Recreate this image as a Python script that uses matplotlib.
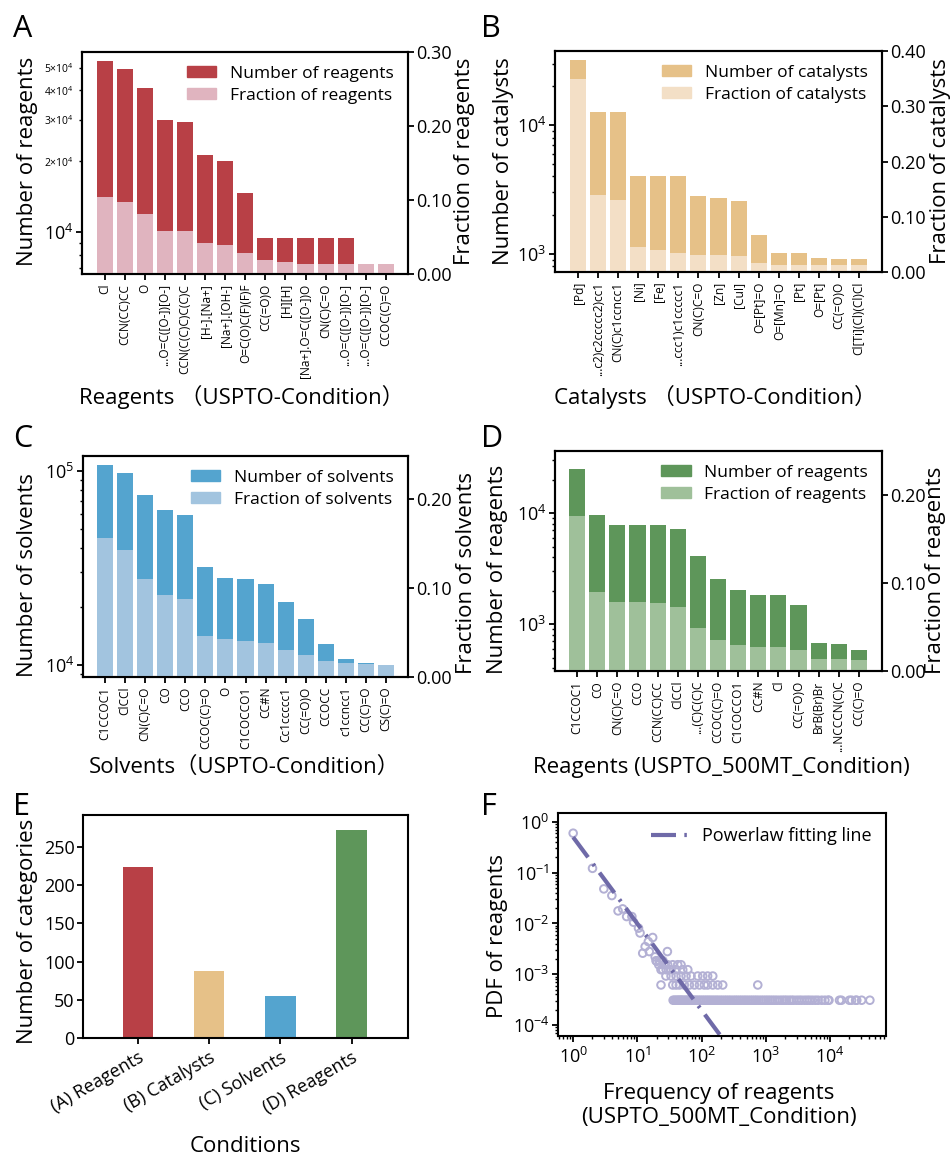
import matplotlib
matplotlib.use("Agg")
import matplotlib.pyplot as plt
from matplotlib.patches import Patch
from matplotlib.ticker import NullFormatter

plt.rcParams['font.family'] = ['Open Sans', 'Noto Sans CJK SC', 'DejaVu Sans']
plt.rcParams['mathtext.fontset'] = 'custom'
plt.rcParams['mathtext.rm'] = 'Open Sans'
plt.rcParams['mathtext.it'] = 'Open Sans:italic'
plt.rcParams['mathtext.bf'] = 'Open Sans:bold'
plt.rcParams['axes.linewidth'] = 1.5
plt.rcParams['xtick.major.width'] = 1.3
plt.rcParams['ytick.major.width'] = 1.3
plt.rcParams['ytick.minor.width'] = 1.0
plt.rcParams['xtick.minor.width'] = 1.0

# ---- dados ----
reag_nomes = ['Cl', 'CCN(CC)CC', 'O', '...O=C([O-])[O-]', 'CCN(C(C)C)C(C)C', '[H-].[Na+]',
              '[Na+].[OH-]', 'O=C(O)C(F)(F)F', 'CC(=O)O', '[H][H]', '[Na+].O=C([O-])O',
              'CN(C)C=O', '...O=C([O-])[O-]', '...O=C([O-])[O-]', 'CCOC(C)=O']
reag_num = [53500, 49400, 41000, 30000, 29400, 21300, 20000, 14700, 9430, 9430, 9430,
            9430, 9430, 7000, 7000]
reag_frac = [0.104, 0.097, 0.081, 0.058, 0.058, 0.042, 0.039, 0.028, 0.019, 0.016, 0.014,
             0.014, 0.014, 0.014, 0.014]

cat_nomes = ['[Pd]', '...c2)c2ccccc2)cc1', 'CN(C)c1ccncc1', '[Ni]', '[Fe]', '...ccc1)c1ccccc1',
             'CN(C)C=O', '[Zn]', '[CuI]', 'O=[Pt]=O', 'O=[Mn]=O', '[Pt]', 'O=[Pt]',
             'CC(=O)O', 'Cl[Ti](Cl)(Cl)Cl']
cat_num = [31900, 12600, 12600, 4030, 4030, 4030, 2820, 2720, 2575, 1400, 1020, 1020, 930,
           910, 910]
cat_frac = [0.349, 0.139, 0.130, 0.045, 0.040, 0.034, 0.031, 0.031, 0.029, 0.016, 0.013,
            0.013, 0.012, 0.012, 0.012]

solv_nomes = ['C1CCOC1', 'ClCCl', 'CN(C)C=O', 'CO', 'CCO', 'CCOC(C)=O', 'O', 'C1COCCO1',
              'CC#N', 'Cc1ccccc1', 'CC(=O)O', 'CCOCC', 'c1ccncc1', 'CC(C)=O', 'CS(C)=O']
solv_num = [107000, 97700, 75200, 63000, 59300, 32000, 28100, 27700, 26100, 21100, 17300,
            12800, 10700, 10240, 10000]
solv_frac = [0.156, 0.143, 0.110, 0.092, 0.087, 0.046, 0.043, 0.040, 0.038, 0.030, 0.025,
             0.018, 0.016, 0.015, 0.013]

mt_nomes = ['C1CCOC1', 'CO', 'CN(C)C=O', 'CCO', 'CCN(CC)CC', 'ClCCl', '...(C)C(C)C',
            'CCOC(C)=O', 'C1COCCO1', 'CC#N', 'Cl', 'CC(=O)O', 'BrB(Br)Br', '...NCCCN(C)C',
            'CC(C)=O']
mt_num = [24900, 9600, 7800, 7800, 7800, 7180, 4100, 2540, 2020, 1830, 1830, 1480, 674,
          660, 584]
mt_frac = [0.176, 0.090, 0.078, 0.078, 0.077, 0.073, 0.049, 0.035, 0.030, 0.027, 0.027,
           0.024, 0.014, 0.014, 0.013]

cond_nomes = ['(A) Reagents', '(B) Catalysts', '(C) Solvents', '(D) Reagents']
cond_num = [224, 88, 55, 272]

# PDF dos reagentes: parte inicial
pdf_x = [1, 2, 3, 4, 5, 5.9, 6.8, 8.2, 8.7, 10.4, 11, 12.1, 13.2, 14.8, 17.3, 15.3, 18.9,
         20, 29.3]
pdf_y = [0.60, 0.122, 0.048, 0.0355, 0.0177, 0.0194, 0.0137, 0.0137, 0.0106, 0.0081,
         0.0065, 0.0026, 0.0035, 0.0044, 0.0053, 0.0028, 0.0022, 0.0018, 0.0028]
# niveis discretos (k / N)
nivel_1 = 3.08e-4
nivel_2 = 6.15e-4
nivel_3 = 9.23e-4
nivel_4 = 1.23e-3
nivel_5 = 1.54e-3
nivel_6 = 1.85e-3
x_nivel_6 = [19.5, 22, 25]
x_nivel_5 = [21.5, 26, 29.6, 35.5, 42.4, 47.8]
x_nivel_4 = [23.3, 24.8, 28, 33.4, 40.0, 50.8, 60.9]
x_nivel_3 = [27.8, 33.4, 40.0, 47.8, 57.2, 68.4, 86.9, 104, 124, 149]
x_nivel_2 = [23.3, 35.5, 40, 45.1, 53.8, 64.5, 77.2, 92.4, 110, 124, 149, 178, 213, 748]
x_nivel_1 = [36, 38, 40, 42, 44, 46, 48, 50, 53, 56, 59, 62, 66, 70, 74, 79, 84, 90, 96,
             103, 110, 118, 126, 135, 145, 156, 168, 180, 195, 210, 228, 245, 265, 285,
             310, 335, 360, 390, 420, 455, 490, 530, 575, 620, 670, 720, 780, 850, 920,
             1000, 1080, 1170, 1270, 1380, 1500, 1650, 1800, 1950, 2100, 2300, 2500, 2700,
             3000, 3300, 3600, 4000, 4400, 4800, 5300, 5900, 6500, 7400, 8300, 9300, 9600,
             14000, 15000, 20000, 21600, 25000, 26000, 31000, 41600]
ajuste_x = [1, 200]
ajuste_y = [0.5, 6.0e-5]

fig = plt.figure(figsize=(9.52, 11.55), dpi=100)

TAM_ROT = 16


def painel_barras(pos, nomes, num, frac, cor, cor_clara, lim_num, lim_frac, ticks_frac,
                  rotulo, xlabel, xlab_pos, ylab_esq, ylab_dir, xlim):
    ax = fig.add_axes(pos)
    x = list(range(len(nomes)))
    ax.set_yscale('log')
    ax.bar(x, num, 0.8, bottom=1, color=cor)
    ax.set_ylim(lim_num)
    ax.set_xlim(xlim)
    ax.set_xticks(x)
    ax.set_xticklabels(nomes, rotation=90, fontsize=8.6)
    ax.tick_params(axis='x', length=4, pad=3)
    ax.tick_params(axis='y', which='major', labelsize=13, length=4, pad=2)
    ax.tick_params(axis='y', which='minor', length=2.5)
    ax.yaxis.set_minor_formatter(NullFormatter())
    ax2 = ax.twinx()
    ax2.bar(x, frac, 0.8, color=cor_clara)
    ax2.set_ylim(lim_frac)
    ax2.set_yticks(ticks_frac)
    ax2.set_yticklabels(['%.2f' % t for t in ticks_frac])
    ax2.tick_params(axis='y', labelsize=13, length=4, pad=2)
    ax.set_xlabel(xlabel, fontsize=TAM_ROT)
    ax.xaxis.set_label_coords(xlab_pos[0], xlab_pos[1])
    ax.set_ylabel('Number of ' + rotulo, fontsize=TAM_ROT)
    ax.yaxis.set_label_coords(ylab_esq[0], ylab_esq[1])
    ax2.set_ylabel('Fraction of ' + rotulo, fontsize=TAM_ROT)
    ax2.yaxis.set_label_coords(ylab_dir[0], ylab_dir[1])
    alcas = [Patch(color=cor), Patch(color=cor_clara)]
    ax2.legend(alcas, ['Number of ' + rotulo, 'Fraction of ' + rotulo], loc='upper right',
               frameon=False, fontsize=12.5, handlelength=1.7, handleheight=0.6,
               labelspacing=0.35, borderaxespad=0.4)
    return ax


axA = painel_barras([0.0861, 0.7628, 0.3424, 0.1922], reag_nomes, reag_num, reag_frac,
                    '#b84046', '#e0b4bf', (6630, 58300), (0, 0.30), [0, 0.1, 0.2, 0.3],
                    'reagents', 'Reagents （USPTO-Condition）', (0.49, -0.50),
                    (-0.135, 0.507), (1.14, 0.507), (-1.13, 15.1))
axA.set_yticks([1e4], labels=['$10^4$'])
axA.set_yticks([7e3, 8e3, 9e3, 2e4, 3e4, 4e4, 5e4],
               labels=['', '', '', '2×10$^4$', '3×10$^4$', '4×10$^4$', '5×10$^4$'], minor=True)
axA.tick_params(axis='y', which='minor', labelsize=7.5)

painel_barras([0.5830, 0.7645, 0.3435, 0.1913], cat_nomes, cat_num, cat_frac,
              '#e6c188', '#f3dfc6', (724, 37500), (0, 0.40), [0, 0.1, 0.2, 0.3, 0.4],
              'catalysts', 'Catalysts （USPTO-Condition）', (0.49, -0.51),
              (-0.125, 0.50), (1.146, 0.50), (-1.15, 15.15))

painel_barras([0.0872, 0.4139, 0.3414, 0.1913], solv_nomes, solv_num, solv_frac,
              '#54a4cf', '#a2c4df', (8670, 119500), (0, 0.248), [0, 0.1, 0.2],
              'solvents', 'Solvents（USPTO-Condition）', (0.495, -0.36),
              (-0.138, 0.46), (1.147, 0.47), (-1.1, 15.1))

painel_barras([0.5830, 0.4190, 0.3435, 0.1905], mt_nomes, mt_num, mt_frac,
              '#5e965a', '#9fc09a', (378, 36200), (0, 0.25), [0, 0.1, 0.2],
              'reagents', 'Reagents (USPTO_500MT_Condition)', (0.51, -0.39),
              (-0.144, 0.46), (1.13, 0.46), (-1.1, 15.15))

# ---- E ----
axE = fig.add_axes([0.0872, 0.1013, 0.3414, 0.1931])
axE.bar(range(4), cond_num, 0.43, color=['#b84046', '#e6c188', '#54a4cf', '#5e965a'])
axE.set_xlim(-0.77, 3.79)
axE.set_ylim(0, 292)
axE.set_yticks([0, 50, 100, 150, 200, 250])
axE.set_xticks(range(4))
axE.set_xticklabels(cond_nomes, rotation=30, ha='right', rotation_mode='anchor', fontsize=13)
axE.tick_params(axis='y', labelsize=13, length=4, pad=2)
axE.tick_params(axis='x', length=4)
axE.set_xlabel('Conditions', fontsize=TAM_ROT)
axE.xaxis.set_label_coords(0.5, -0.44)
axE.set_ylabel('Number of categories', fontsize=TAM_ROT)
axE.yaxis.set_label_coords(-0.138, 0.48)

# ---- F ----
axF = fig.add_axes([0.5861, 0.1030, 0.3445, 0.1931])
cor_pts = '#b3b0d4'
axF.scatter(pdf_x, pdf_y, s=30, facecolors='none', edgecolors=cor_pts, linewidths=1.4)
for xs, nv in [(x_nivel_1, nivel_1), (x_nivel_2, nivel_2), (x_nivel_3, nivel_3),
               (x_nivel_4, nivel_4), (x_nivel_5, nivel_5), (x_nivel_6, nivel_6)]:
    axF.scatter(xs, [nv] * len(xs), s=30, facecolors='none', edgecolors=cor_pts,
                linewidths=1.4)
axF.plot(ajuste_x, ajuste_y, color='#6f6aa8', lw=3, linestyle=(0, (6, 2, 0.6, 2)),
         label='Powerlaw fitting line')
axF.set_xscale('log')
axF.set_yscale('log')
axF.set_xlim(0.58, 74000)
axF.set_ylim(6.07e-5, 1.5)
axF.set_xticks([1, 10, 100, 1000, 10000])
axF.set_yticks([1e-4, 1e-3, 1e-2, 1e-1, 1])
axF.tick_params(axis='both', which='major', labelsize=13, length=4)
axF.tick_params(axis='y', which='major', pad=2)
axF.tick_params(axis='both', which='minor', length=2.5)
axF.xaxis.set_minor_formatter(NullFormatter())
axF.yaxis.set_minor_formatter(NullFormatter())
axF.legend(loc='upper right', frameon=False, fontsize=13, handlelength=2.0,
           borderaxespad=0.4)
axF.set_xlabel('Frequency of reagents\n(USPTO_500MT_Condition)', fontsize=TAM_ROT)
axF.xaxis.set_label_coords(0.49, -0.21)
axF.set_ylabel('PDF of reagents', fontsize=TAM_ROT)
axF.yaxis.set_label_coords(-0.152, 0.45)

# letras dos paineis
for letra, px, py in [('A', 13, 37), ('B', 481, 37), ('C', 13, 447), ('D', 481, 447),
                      ('E', 13, 815), ('F', 481, 815)]:
    fig.text(px / 952, 1 - py / 1155, letra, fontsize=22, va='baseline', ha='left')

fig.savefig('out.png', dpi=100)
